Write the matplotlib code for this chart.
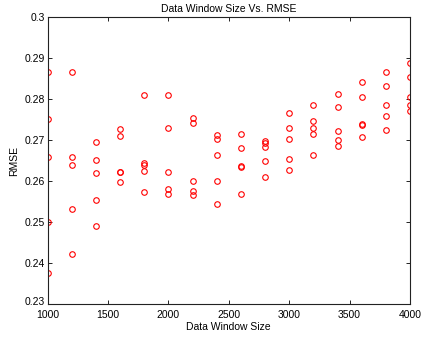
# coding:utf-8
import numpy as np
import matplotlib
matplotlib.use("Agg")
import matplotlib.pyplot as plt
from matplotlib.transforms import ScaledTranslation

# Data window sizes (5 runs each) and resulting RMSE
window_sizes = [1000, 1200, 1400, 1600, 1800, 2000, 2200, 2400,
                2600, 2800, 3000, 3200, 3400, 3600, 3800, 4000]
rmse_runs = [
    [0.2867, 0.2751, 0.2660, 0.2499, 0.2376],
    [0.2867, 0.2659, 0.2639, 0.2533, 0.2423],
    [0.2695, 0.2651, 0.2621, 0.2553, 0.2490],
    [0.2728, 0.2711, 0.2623, 0.2622, 0.2597],
    [0.2811, 0.2645, 0.2640, 0.2625, 0.2574],
    [0.2811, 0.2729, 0.2623, 0.2580, 0.2569],
    [0.2753, 0.2743, 0.2601, 0.2575, 0.2566],
    [0.2713, 0.2702, 0.2664, 0.2601, 0.2544],
    [0.2715, 0.2680, 0.2636, 0.2635, 0.2568],
    [0.2699, 0.2692, 0.2684, 0.2648, 0.2611],
    [0.2767, 0.2730, 0.2704, 0.2654, 0.2628],
    [0.2787, 0.2746, 0.2730, 0.2714, 0.2665],
    [0.2813, 0.2780, 0.2723, 0.2700, 0.2685],
    [0.2842, 0.2805, 0.2739, 0.2737, 0.2707],
    [0.2867, 0.2832, 0.2786, 0.2758, 0.2726],
    [0.2889, 0.2854, 0.2805, 0.2785, 0.2771],
]

x_ticks = [1000, 1500, 2000, 2500, 3000, 3500, 4000]
y_ticks = [0.23, 0.24, 0.25, 0.26, 0.27, 0.28, 0.29, 0.3]
y_tick_labels = ["0.23", "0.24", "0.25", "0.26", "0.27", "0.28", "0.29", "0.3"]


def __main():
    plt.rcParams["font.family"] = ["Liberation Sans", "DejaVu Sans"]

    xs = np.repeat(window_sizes, [len(r) for r in rmse_runs])
    ys = np.concatenate([np.array(r) for r in rmse_runs])

    fig = plt.figure(figsize=(4.22, 3.37), dpi=100)
    ax = fig.add_axes([0.1126, 0.0979, 0.8590, 0.8508])

    ax.plot(xs, ys, "o", color="red", mfc="none", markersize=4,
            markeredgewidth=0.8, linestyle="none")

    ax.set_xlim(1000, 4000)
    ax.set_ylim(0.23, 0.3)
    ax.set_xticks(x_ticks)
    ax.set_xticklabels([str(t) for t in x_ticks])
    ax.set_yticks(y_ticks)
    ax.set_yticklabels(y_tick_labels)

    ax.tick_params(direction="in", length=3, width=0.6, labelsize=7.5,
                   top=True, right=True, pad=2)
    ax.tick_params(axis="x", pad=4)
    # nudge the bottom y label up a bit so it clears "1000"
    lab = ax.get_yticklabels()[0]
    lab.set_transform(lab.get_transform()
                      + ScaledTranslation(0, 2.5 / 72, fig.dpi_scale_trans))
    for s in ax.spines.values():
        s.set_linewidth(0.8)
        s.set_color("#222222")

    ax.set_title("Data Window Size Vs. RMSE", fontsize=7.5, pad=4)
    ax.set_xlabel("Data Window Size", fontsize=7.5, labelpad=2)
    ax.set_ylabel("RMSE", fontsize=7.5, labelpad=4)

    fig.savefig("out.png", dpi=100)


if __name__ == "__main__":
    __main()
